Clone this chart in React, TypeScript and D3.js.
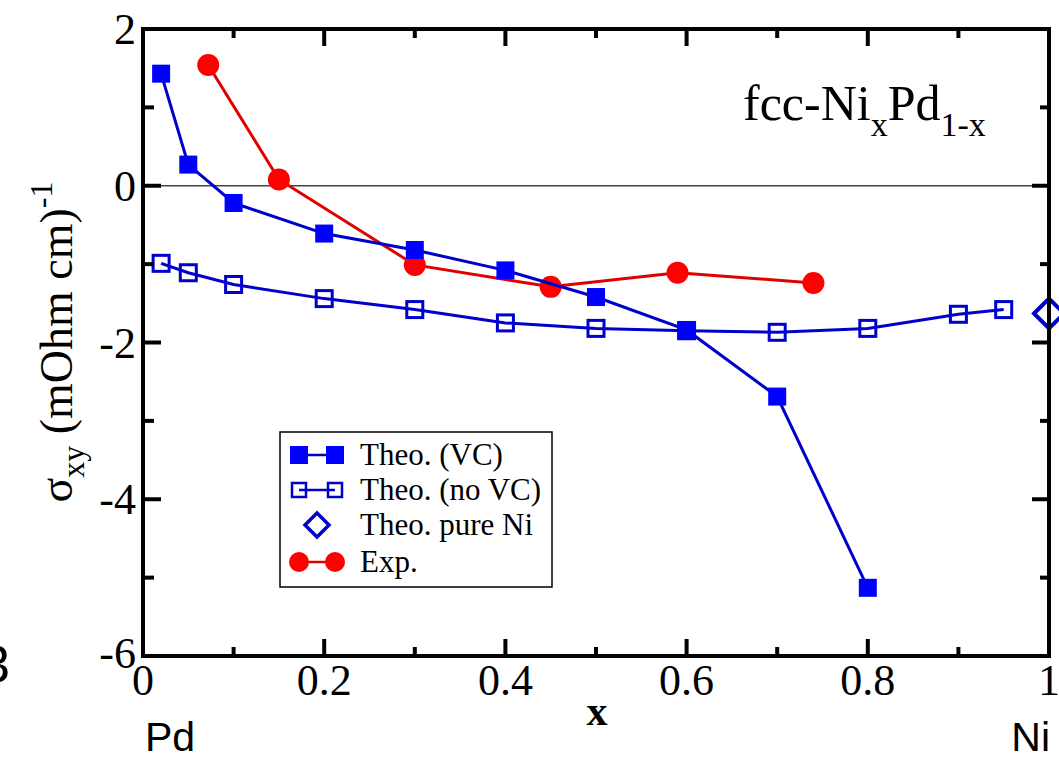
import React from "react";
import * as d3 from "d3";

const vcX = [0.02, 0.05, 0.1, 0.2, 0.3, 0.4, 0.5, 0.6, 0.7, 0.8];
const vcY = [1.43, 0.27, -0.22, -0.61, -0.82, -1.08, -1.42, -1.84, -2.69, -5.13];
const noVcX = [0.02, 0.05, 0.1, 0.2, 0.3, 0.4, 0.5, 0.6, 0.7, 0.8, 0.9, 0.95];
const noVcY = [-0.99, -1.11, -1.26, -1.44, -1.58, -1.75, -1.82, -1.85, -1.87, -1.82, -1.64, -1.58];
const pureNiX = [1.0];
const pureNiY = [-1.63];
const expX = [0.072, 0.15, 0.3, 0.45, 0.59, 0.74];
const expY = [1.54, 0.08, -1.01, -1.29, -1.11, -1.24];
const xTicks = [0, 0.2, 0.4, 0.6, 0.8, 1];
const xTickLabels = ["0", "0.2", "0.4", "0.6", "0.8", "1"];
const xMinor = [0.1, 0.3, 0.5, 0.7, 0.9];
const yTicks = [2, 0, -2, -4, -6];
const yMinor = [1, -1, -3, -5];
const legendLabels = ["Theo. (VC)", "Theo. (no VC)", "Theo. pure Ni", "Exp."];

const L = 143, R = 1049, T = 29, B = 656;
const SERIF = "'Liberation Serif', 'Times New Roman', serif";
const SANS = "'Liberation Sans', Arial, sans-serif";

export default function App() {
  const x = d3.scaleLinear().domain([0, 1]).range([L, R]);
  const y = d3.scaleLinear().domain([-6, 2]).range([B, T]);
  const line = d3.line<[number, number]>().x(d => x(d[0])).y(d => y(d[1]));
  const vc = vcX.map((v, i) => [v, vcY[i]] as [number, number]);
  const nvc = noVcX.map((v, i) => [v, noVcY[i]] as [number, number]);
  const ex = expX.map((v, i) => [v, expY[i]] as [number, number]);
  const blueLine = "#0000cc";
  const blue = "#0000ff";
  const redLine = "#e00000";
  const red = "#ff0000";
  const lgY = [455, 490, 525, 562];
  return (
    <svg width={1059} height={760} style={{ position: "absolute", left: 0, top: 0, background: "#fff" }}>
      <rect x={0} y={0} width={1059} height={760} fill="#fff" />
      {/* zero line */}
      <line x1={L} x2={R} y1={y(0)} y2={y(0)} stroke="#444" strokeWidth={1.5} />
      {/* Exp */}
      <path d={line(ex) || ""} fill="none" stroke={redLine} strokeWidth={3} />
      {ex.map((d, i) => <circle key={"e" + i} cx={x(d[0])} cy={y(d[1])} r={11} fill={red} />)}
      {/* no VC */}
      <path d={line(nvc) || ""} fill="none" stroke={blueLine} strokeWidth={3} />
      {nvc.map((d, i) => <rect key={"n" + i} x={x(d[0]) - 8} y={y(d[1]) - 8} width={16} height={16} fill="none" stroke={blueLine} strokeWidth={3} />)}
      {/* VC */}
      <path d={line(vc) || ""} fill="none" stroke={blueLine} strokeWidth={3} />
      {vc.map((d, i) => <rect key={"v" + i} x={x(d[0]) - 9} y={y(d[1]) - 9} width={18} height={18} fill={blue} />)}
      {/* pure Ni */}
      {pureNiX.map((v, i) => {
        const cx = x(v), cy = y(pureNiY[i]), s = 15;
        return <path key={"p" + i} d={`M${cx - s},${cy}L${cx},${cy - s}L${cx + s},${cy}L${cx},${cy + s}Z`} fill="none" stroke={blueLine} strokeWidth={4} />;
      })}
      {/* frame */}
      <rect x={L} y={T} width={R - L} height={B - T} fill="none" stroke="#000" strokeWidth={4} />
      {xTicks.map((v, i) => (
        <g key={"xt" + i}>
          <line x1={x(v)} x2={x(v)} y1={B} y2={B - 17} stroke="#000" strokeWidth={4} />
          <line x1={x(v)} x2={x(v)} y1={T} y2={T + 17} stroke="#000" strokeWidth={4} />
          <text x={x(v)} y={B + 39} textAnchor="middle" fontFamily={SERIF} fontSize={44}>{xTickLabels[i]}</text>
        </g>
      ))}
      {xMinor.map((v, i) => (
        <g key={"xm" + i}>
          <line x1={x(v)} x2={x(v)} y1={B} y2={B - 9} stroke="#000" strokeWidth={4} />
          <line x1={x(v)} x2={x(v)} y1={T} y2={T + 9} stroke="#000" strokeWidth={4} />
        </g>
      ))}
      {yTicks.map((v, i) => (
        <g key={"yt" + i}>
          <line x1={L} x2={L + 18} y1={y(v)} y2={y(v)} stroke="#000" strokeWidth={4} />
          <line x1={R} x2={R - 17} y1={y(v)} y2={y(v)} stroke="#000" strokeWidth={4} />
          <text x={136} y={y(v) + (v === -6 ? 12 : 15)} textAnchor="end" fontFamily={SERIF} fontSize={44}>{String(v)}</text>
        </g>
      ))}
      {yMinor.map((v, i) => (
        <g key={"ym" + i}>
          <line x1={L} x2={L + 11} y1={y(v)} y2={y(v)} stroke="#000" strokeWidth={4} />
          <line x1={R} x2={R - 9} y1={y(v)} y2={y(v)} stroke="#000" strokeWidth={4} />
        </g>
      ))}
      {/* axis labels */}
      <text x={597} y={725} textAnchor="middle" fontFamily={SERIF} fontSize={42} fontWeight="bold">x</text>
      <text transform="translate(72,342) rotate(-90)" textAnchor="middle" fontFamily={SERIF} fontSize={46}>
        <tspan>σ</tspan>
        <tspan fontSize={32} dy={12}>xy</tspan>
        <tspan dy={-12}> (mOhm cm)</tspan>
        <tspan fontSize={32} dy={-20}>-1</tspan>
      </text>
      {/* title */}
      <text x={743} y={120} fontFamily={SERIF} fontSize={50}>
        <tspan>fcc-Ni</tspan>
        <tspan fontSize={34} dy={16}>x</tspan>
        <tspan dy={-16}>Pd</tspan>
        <tspan fontSize={34} dy={16}>1-x</tspan>
      </text>
      {/* legend */}
      <rect x={280} y={432} width={272} height={155} fill="#fff" stroke="#000" strokeWidth={1.5} />
      <line x1={299} x2={335} y1={lgY[0]} y2={lgY[0]} stroke={blueLine} strokeWidth={2.5} />
      <rect x={290} y={lgY[0] - 9} width={18} height={18} fill={blue} />
      <rect x={326} y={lgY[0] - 9} width={18} height={18} fill={blue} />
      <line x1={299} x2={335} y1={lgY[1]} y2={lgY[1]} stroke={blueLine} strokeWidth={2.5} />
      <rect x={292} y={lgY[1] - 7} width={14} height={14} fill="none" stroke={blueLine} strokeWidth={2.5} />
      <rect x={328} y={lgY[1] - 7} width={14} height={14} fill="none" stroke={blueLine} strokeWidth={2.5} />
      <path d={`M${305},${lgY[2]}L${317},${lgY[2] - 12}L${329},${lgY[2]}L${317},${lgY[2] + 12}Z`} fill="none" stroke={blueLine} strokeWidth={3.5} />
      <line x1={299} x2={335} y1={lgY[3]} y2={lgY[3]} stroke={redLine} strokeWidth={2.5} />
      <circle cx={299} cy={lgY[3]} r={10} fill={red} />
      <circle cx={335} cy={lgY[3]} r={10} fill={red} />
      {legendLabels.map((t, i) => (
        <text key={"lg" + i} x={360} y={lgY[i] + 10} fontFamily={SERIF} fontSize={31}>{t}</text>
      ))}
      {/* element labels */}
      <text x={145} y={751} fontFamily={SANS} fontSize={41}>Pd</text>
      <text x={1050} y={751} textAnchor="end" fontFamily={SANS} fontSize={41}>Ni</text>
      <text x={10} y={682} textAnchor="end" fontFamily={SANS} fontSize={52}>3</text>
    </svg>
  );
}
